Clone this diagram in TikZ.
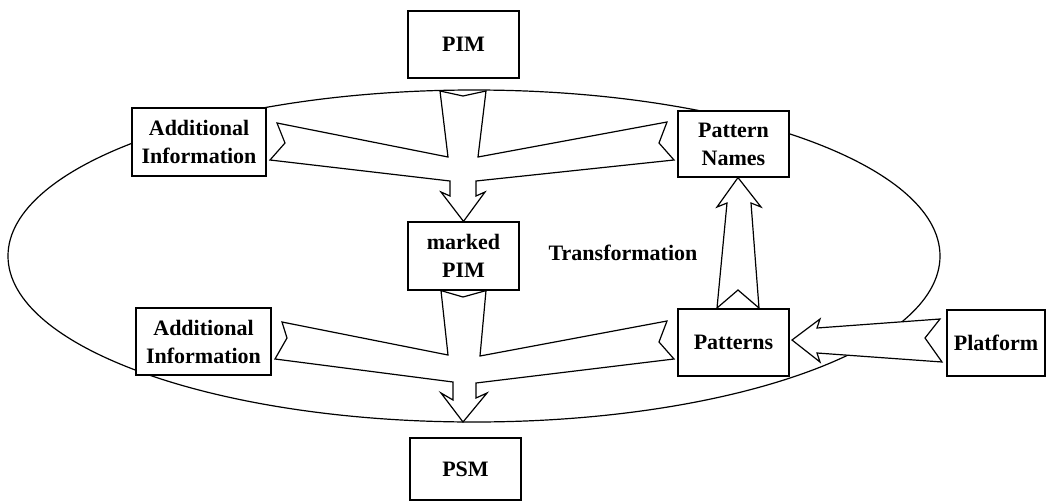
\documentclass[tikz,border=0pt]{standalone}
\usepackage{fontspec}
\setmainfont{Liberation Serif}
\begin{document}
\begin{tikzpicture}[x=1pt,y=-1pt,
  box/.style={draw=black, fill=white, line width=1.2pt, inner sep=0pt,
    align=center, font=\fontsize{22}{28}\selectfont\bfseries, anchor=center},
  blockarrow/.style={draw=black, fill=white, line width=1.2pt, line join=miter},
  ring/.style={draw=black, line width=1.2pt}]
\useasboundingbox (0,0) rectangle (1047,501);

% the transformation ring
\draw[ring] (474,256) ellipse [x radius=466pt, y radius=166pt];

% models and inputs
\node[box, minimum width=111pt, minimum height=67pt] (pim) at (463.5,44.5) {PIM};
\node[box, minimum width=134pt, minimum height=68pt] (add1) at (199,142) {Additional\\Information};
\node[box, minimum width=111pt, minimum height=66pt] (pnames) at (733.5,144) {Pattern\\Names};
\node[box, minimum width=111pt, minimum height=68pt] (mpim) at (463.5,256) {marked\\PIM};
\node[box, minimum width=135pt, minimum height=67pt] (add2) at (203.5,341.5) {Additional\\Information};
\node[box, minimum width=111pt, minimum height=67pt] (pats) at (733.5,342.5) {Patterns};
\node[box, minimum width=98pt, minimum height=66pt] (plat) at (996,343) {Platform};
\node[box, minimum width=111pt, minimum height=62pt] (psm) at (465.5,469) {PSM};
\node[font=\fontsize{22}{28}\selectfont\bfseries] (trans) at (623,253) {Transformation};

% PIM + additional information + pattern names -> marked PIM
\draw[blockarrow] (440,91) -- (463,96) -- (486,91) -- (478,157) -- (667,122)
  -- (659,143) -- (674,160) -- (476,181) -- (476,196) -- (485,192)
  -- (mpim.north) -- (441,192) -- (450,196) -- (450,181) -- (270,160)
  -- (285,143) -- (277,123) -- (448,157) -- cycle;

% marked PIM + additional information + patterns -> PSM
\draw[blockarrow] (mpim.south west -| 441,0) -- (463,297) -- (mpim.south east -| 486,0)
  -- (480,356) -- (667,321) -- (659,342) -- (674,359) -- (476,383)
  -- (476,398) -- (487,393) -- (463,422) -- (441,393) -- (453,400)
  -- (453,382) -- (275,359) -- (287,338) -- (282,322) -- (448,355) -- cycle;

% patterns -> pattern names
\draw[blockarrow] (pnames.south -| 738,0) -- (761,207) -- (751,203) -- (759,308)
  -- (738,290) -- (717,308) -- (727,203) -- (717,207) -- cycle;

% platform -> patterns
\draw[blockarrow] (792,340) -- (820,319) -- (817,328) -- (940,319) -- (925,338)
  -- (942,362) -- (817,353) -- (820,362) -- cycle;
\end{tikzpicture}
\end{document}
